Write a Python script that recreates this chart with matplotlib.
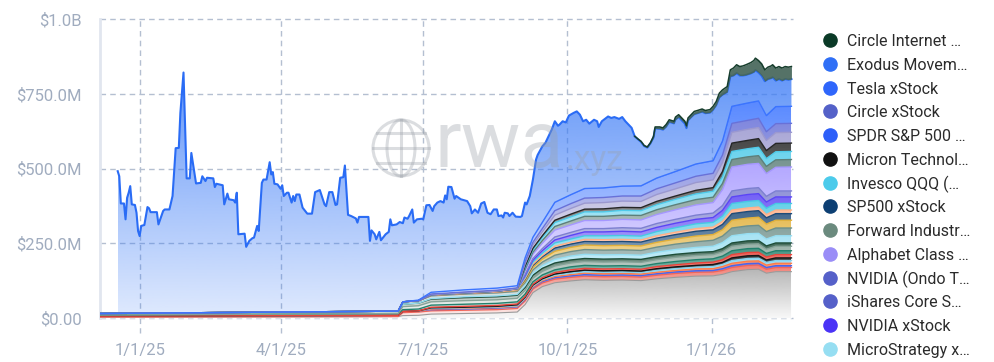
import numpy as np
import pandas as pd
import matplotlib
matplotlib.use("Agg")
import matplotlib.pyplot as plt
import matplotlib.colors as mcolors
from matplotlib.lines import Line2D
from matplotlib.patches import Circle, Ellipse

plt.rcParams['font.family'] = ['Roboto', 'DejaVu Sans']

BASE = pd.Timestamp("2025-01-01")

# total value (top edge of the chart), days counted from 1/1/25, values in $M
top_day = [-14, -13, -12, -10, -9, -8, -7, -6, -5, -3,
           -2, -1, 0, 1, 3, 5, 6, 7, 11, 12,
           15, 16, 19, 21, 23, 25, 26, 28, 30, 32,
           33, 36, 39, 40, 42, 43, 47, 48, 49, 53,
           54, 56, 57, 60, 61, 62, 63, 67, 68, 70,
           72, 73, 75, 76, 78, 79, 81, 83, 84, 85,
           86, 88, 90, 91, 92, 94, 95, 97, 98, 99,
           100, 102, 104, 107, 110, 112, 115, 118, 119, 121,
           123, 125, 126, 128, 130, 131, 133, 135, 138, 139,
           140, 146, 147, 148, 150, 151, 153, 154, 157, 159,
           160, 161, 164, 166, 168, 169, 171, 172, 174, 175,
           177, 180, 181, 183, 185, 187, 188, 190, 192, 194,
           195, 196, 197, 199, 201, 202, 205, 209, 211, 212,
           214, 216, 218, 220, 222, 224, 226, 228, 229, 231,
           232, 233, 235, 236, 238, 240, 243, 244, 246, 247,
           249, 251, 253, 254, 257, 259, 261, 263, 265, 267,
           268, 270, 272, 274, 277, 279, 281, 283, 285, 287,
           290, 292, 293, 295, 297, 299, 301, 303, 306, 308,
           310, 312, 314, 316, 318, 320, 322, 324, 326, 328,
           329, 332, 334, 336, 338, 341, 342, 344, 346, 348,
           349, 350, 352, 354, 356, 359, 361, 364, 366, 368,
           370, 372, 375, 377, 379, 381, 383, 385, 387, 390,
           392, 393, 395, 397, 399, 401, 403, 404, 406, 408,
           410, 412, 414, 416]
top_value = [491, 474, 383, 383, 330, 402, 419, 441, 380, 378,
             352, 291, 274, 308, 311, 371, 367, 354, 354, 313,
             358, 363, 363, 408, 568, 569, 686, 821, 467, 467,
             552, 450, 452, 474, 458, 469, 467, 438, 449, 444,
             380, 416, 397, 394, 386, 419, 280, 282, 238, 258,
             267, 269, 308, 291, 452, 463, 463, 521, 480, 488,
             449, 447, 432, 444, 408, 419, 419, 386, 408, 391,
             413, 413, 369, 349, 349, 421, 428, 380, 374, 421,
             421, 378, 380, 469, 471, 510, 345, 341, 333, 319,
             338, 338, 258, 293, 280, 263, 288, 260, 280, 288,
             330, 310, 313, 321, 317, 336, 332, 341, 363, 319,
             330, 332, 330, 377, 378, 358, 374, 386, 391, 386,
             410, 397, 439, 438, 399, 408, 397, 391, 374, 350,
             363, 352, 383, 388, 352, 347, 363, 363, 341, 343,
             336, 352, 350, 341, 352, 339, 338, 341, 386, 380,
             408, 463, 530, 545, 574, 586, 608, 630, 658, 643,
             647, 658, 654, 677, 686, 691, 680, 658, 663, 650,
             663, 658, 639, 658, 666, 674, 669, 672, 666, 672,
             658, 647, 636, 608, 599, 591, 577, 572, 586, 608,
             639, 639, 636, 647, 663, 658, 672, 680, 669, 658,
             643, 669, 680, 691, 694, 699, 694, 697, 708, 724,
             752, 763, 774, 830, 836, 847, 841, 843, 847, 854,
             861, 869, 861, 850, 830, 839, 843, 847, 836, 841,
             836, 841, 839, 841]

# Circle Internet (top band), on the same days
circle_day = [316, 318, 320, 322, 324,
              326, 328, 329, 332, 334, 336, 338, 341, 342, 344,
              346, 348, 349, 350, 352, 354, 356, 359, 361, 364,
              366, 368, 370, 372, 375, 377, 379, 381, 383, 385,
              387, 390, 392, 393, 395, 397, 399, 401, 403, 404,
              406, 408, 410, 412, 414, 416]
circle_internet = [1, 1, 2, 2, 2,
                   2, 4, 5, 6, 6, 7, 7, 7, 8, 8,
                   8, 8, 8, 8, 8, 9, 9, 9, 9, 10,
                   11, 12, 14, 16, 18, 22, 25, 28, 30, 32,
                   34, 36, 38, 40, 40, 40, 38, 40, 41, 42,
                   42, 42, 42, 42, 42, 42]

# lower stack (below Exodus), bottom to top, $M
layer_day = [-25, 165, 168, 178, 186, 207, 228, 241, 246, 251, 257, 265, 275, 284,
             296, 308, 320, 330, 342, 355, 366, 372, 378, 388, 395, 400, 406, 416]
others_gray = [3, 5, 8, 9, 13, 15, 17, 20, 45, 85, 105, 118, 124, 128,
               126, 127, 125, 131, 136, 140, 141, 146, 155, 162, 163, 150, 155, 155]
salmon_layer = [0, 0, 10, 11, 11, 11, 11, 12, 12, 12, 12, 12, 12, 12,
                12, 12, 12, 12, 13, 13, 13, 13, 14, 14, 14, 13, 14, 14]
royal_layer = [3, 4, 4, 4, 4, 4, 5, 5, 5, 5, 5, 5, 5, 5,
               5, 5, 5, 5, 5, 5, 5, 6, 6, 6, 6, 6, 6, 6]
orange_layer = [0, 0, 0, 0, 2, 2, 2, 2, 2, 2, 3, 4, 4, 5,
                5, 5, 5, 5, 5, 6, 6, 7, 8, 8, 8, 8, 8, 8]
sky_layer = [0, 0, 0, 0, 2, 2, 2, 2, 2, 3, 3, 4, 5, 5,
             5, 5, 5, 6, 6, 6, 7, 7, 9, 9, 9, 9, 9, 9]
black_layer = [0, 0, 0, 0, 2, 2, 2, 3, 3, 3, 3, 4, 5, 5,
               5, 5, 5, 6, 6, 6, 7, 7, 9, 9, 9, 8, 9, 9]
red_layer = [0, 0, 0, 0, 2, 3, 3, 3, 3, 3, 4, 5, 6, 6,
             6, 6, 6, 7, 7, 8, 8, 9, 11, 11, 11, 10, 11, 11]
teal_layer = [4, 6, 6, 6, 7, 7, 7, 7, 8, 8, 9, 9, 10, 10,
              10, 10, 10, 10, 11, 11, 11, 12, 13, 13, 13, 12, 13, 13]
sage_layer = [0, 0, 10, 11, 11, 12, 12, 12, 12, 12, 12, 13, 13, 13,
              13, 13, 13, 13, 14, 14, 14, 14, 15, 15, 15, 14, 15, 15]
forest_layer = [5, 8, 8, 9, 9, 10, 10, 10, 10, 10, 10, 10, 10, 10,
                10, 10, 10, 10, 10, 10, 10, 11, 11, 11, 11, 11, 11, 11]
microstrategy_xstock = [0, 0, 0, 0, 2, 3, 3, 3, 6, 7, 9, 12, 13, 14,
                        14, 14, 14, 15, 16, 17, 18, 20, 24, 24, 24, 23, 24, 24]
grayteal_layer = [0, 0, 8, 8, 9, 9, 10, 10, 10, 11, 12, 14, 15, 16,
                  16, 16, 16, 17, 18, 19, 20, 22, 26, 26, 27, 25, 26, 26]
gold_layer = [0, 0, 0, 0, 2, 2, 3, 3, 6, 8, 10, 13, 14, 15,
              15, 15, 15, 16, 17, 19, 19, 21, 26, 26, 27, 25, 26, 26]
sp500_xstock = [0, 0, 0, 0, 0, 0, 0, 2, 5, 7, 8, 11, 11, 12,
                13, 13, 13, 14, 15, 16, 16, 18, 22, 22, 22, 21, 22, 22]
peach_layer = [0, 0, 0, 0, 0, 0, 0, 0, 3, 4, 4, 6, 6, 7,
               7, 7, 7, 8, 8, 9, 9, 10, 12, 12, 12, 11, 12, 12]
cyan_layer = [0, 0, 0, 0, 2, 2, 3, 3, 5, 7, 8, 11, 11, 12,
              13, 13, 13, 14, 15, 16, 16, 18, 22, 22, 22, 21, 22, 22]
nvidia_xstock = [0, 0, 0, 0, 0, 0, 0, 1, 4, 6, 8, 10, 12, 13,
                 13, 14, 14, 14, 15, 15, 16, 19, 22, 23, 23, 21, 22, 22]
nvidia_ondo = [0, 0, 0, 0, 0, 0, 0, 0, 5, 6, 7, 10, 10, 11,
               11, 12, 12, 13, 13, 14, 15, 16, 20, 20, 20, 19, 20, 20]
alphabet_class_a = [0, 0, 0, 0, 0, 0, 0, 0, 11, 14, 18, 23, 25, 27,
                    27, 28, 28, 30, 32, 34, 35, 53, 80, 81, 81, 76, 79, 80]
forward_industries = [0, 0, 0, 0, 0, 0, 0, 0, 6, 7, 9, 12, 13, 14,
                      14, 14, 15, 16, 17, 18, 18, 21, 25, 25, 26, 24, 25, 25]
invesco_qqq = [0, 0, 0, 0, 0, 0, 0, 0, 6, 8, 10, 13, 14, 15,
               15, 16, 16, 17, 18, 19, 20, 22, 27, 27, 28, 26, 27, 27]
micron = [0, 0, 0, 0, 0, 0, 0, 0, 4, 5, 6, 8, 9, 9,
          10, 10, 10, 11, 11, 12, 12, 18, 28, 28, 29, 27, 28, 28]
ishares_core = [0, 0, 0, 0, 0, 0, 0, 0, 8, 11, 13, 17, 19, 20,
                21, 21, 21, 23, 24, 26, 26, 30, 36, 37, 37, 34, 36, 36]
circle_xstock = [0, 0, 0, 0, 2, 3, 3, 3, 7, 9, 11, 15, 16, 17,
                 17, 17, 18, 19, 20, 21, 22, 25, 30, 30, 31, 29, 30, 30]
tesla_xstock = [0, 0, 0, 2, 6, 7, 7, 7, 13, 17, 21, 28, 30, 32,
                32, 33, 34, 36, 38, 41, 42, 47, 57, 58, 58, 54, 57, 57]

x_tick_dates = ["2025-01-01", "2025-04-01", "2025-07-01", "2025-10-01", "2026-01-01"]
x_tick_labels = ["1/1/25", "4/1/25", "7/1/25", "10/1/25", "1/1/26"]
y_ticks = [0, 250, 500, 750, 1000]
y_tick_labels = ["$0.00", "$250.0M", "$500.0M", "$750.0M", "$1.0B"]

legend_names = ["Circle Internet …", "Exodus Movem…", "Tesla xStock", "Circle xStock",
                "SPDR S&P 500 …", "Micron Technol…", "Invesco QQQ (…", "SP500 xStock",
                "Forward Industr…", "Alphabet Class …", "NVIDIA (Ondo T…", "iShares Core S…",
                "NVIDIA xStock", "MicroStrategy x…"]
legend_colors = ["#0b3a27", "#2f6ff6", "#2f66fb", "#5461c8", "#2d5ff9", "#111111", "#4ccbeb",
                 "#0d3f73", "#6b8a7e", "#9a8df7", "#5560c9", "#5560c9", "#4a33f6", "#96def2"]

lower = [
    (others_gray, "#8a8a8a"), (salmon_layer, "#f0665a"), (royal_layer, "#4a64e8"),
    (orange_layer, "#ff7b47"), (sky_layer, "#86d3ee"), (black_layer, "#161616"),
    (red_layer, "#e8453c"), (teal_layer, "#23806c"), (sage_layer, "#86a398"),
    (forest_layer, "#1d4d38"), (microstrategy_xstock, "#96def2"), (grayteal_layer, "#6e908a"),
    (gold_layer, "#e2b13a"), (sp500_xstock, "#1e4b78"), (peach_layer, "#ffb088"),
    (cyan_layer, "#47c8e4"), (nvidia_xstock, "#5b45f5"), (nvidia_ondo, "#7c7fd0"),
    (alphabet_class_a, "#a597ff"), (forward_industries, "#5c7f7a"), (invesco_qqq, "#4fcbea"),
    (micron, "#262626"), (ishares_core, "#9b98cf"), (circle_xstock, "#6871d8"),
    (tesla_xstock, "#3b74ff"),
]


def band(ax, x, lo, hi, color, a_lo, a_hi, z):
    x = np.asarray(x, float)
    lo = np.asarray(lo, float)
    hi = np.asarray(hi, float)
    poly = ax.fill_between(x, lo, hi, facecolor="none", edgecolor="none", zorder=z)
    ramp = np.zeros((256, 1, 4))
    ramp[:, 0, :3] = mcolors.to_rgb(color)
    ramp[:, 0, 3] = np.linspace(a_lo, a_hi, 256)
    im = ax.imshow(ramp, extent=(x.min(), x.max(), lo.min(), hi.max()),
                   origin="lower", aspect="auto", interpolation="bilinear", zorder=z)
    im.set_clip_path(poly.get_paths()[0], transform=ax.transData)


fig = plt.figure(figsize=(9.95, 3.62), dpi=100)
ax = fig.add_axes([100 / 995, 1 - 318 / 362, 693 / 995, 299 / 362])

top_day_a = np.array(top_day, float)
total = np.array(top_value, float)
exodus_top = total.copy()
ci = np.searchsorted(top_day_a, circle_day)
exodus_top[ci] -= np.array(circle_internet, float)

# Exodus band (drawn from zero, the lower stack paints over it)
band(ax, top_day_a, np.zeros_like(exodus_top), exodus_top, "#3b7bf7", 0.16, 0.8, 1)
ax.plot(top_day_a, exodus_top, color="#2a6cf5", lw=1.5, zorder=3)

# lower stack
ld = np.array(layer_day, float)
stack = np.vstack([np.array(v, float) for v, _ in lower])
tops = np.cumsum(stack, axis=0)
ax.fill_between(ld, 0, tops[-1], color="white", lw=0, zorder=1.5)
bottom = np.zeros_like(ld)
for k, (vals, col) in enumerate(lower):
    if k == 0:
        band(ax, ld, bottom, tops[k], col, 0.06, 0.62, 2)
        ax.plot(ld, tops[k], color="#9a9a9a", lw=0.8, zorder=2.6)
    else:
        band(ax, ld, bottom, tops[k], col, 0.12, 0.85, 2)
        ax.plot(ld, tops[k], color=col, lw=1.0, zorder=2.6)
    bottom = tops[k]

# Circle Internet band at the very top
cd = np.array(circle_day, float)
ax.fill_between(cd, exodus_top[ci], total[ci], color="#46665a", alpha=0.92, lw=0, zorder=3.1)
ax.plot(cd, total[ci], color="#163d2c", lw=1.1, zorder=3.2)

# axes styling
tick_days = [(pd.Timestamp(d) - BASE).days for d in x_tick_dates]
ax.set_xticks(tick_days)
ax.set_xticklabels(x_tick_labels)
ax.set_yticks(y_ticks)
ax.set_yticklabels(y_tick_labels)
ax.tick_params(axis="y", length=0, pad=13, labelsize=12, labelcolor="#a0acbf")
ax.tick_params(axis="x", length=0, pad=18, labelsize=12, labelcolor="#a0acbf")
ax.set_axisbelow(True)
ax.grid(True, color="#b4bfd1", lw=1, ls=(0, (4, 3)))
for gl in ax.get_ygridlines():
    gl.set_clip_on(False)
for d in tick_days:
    ax.plot([d, d], [0, -50], color="#b4bfd1", lw=1, ls=(0, (4, 3)), clip_on=False, zorder=0.5)
for s in ["top", "right", "bottom"]:
    ax.spines[s].set_visible(False)
ax.spines["left"].set_color("#e1e6ef")
ax.spines["left"].set_linewidth(2)
ax.set_xlim(-25.3, 417)
ax.set_ylim(0, 1000)

# watermark
fig.text(435 / 995, 1 - 167 / 362, "rwa", fontsize=57, color="#9aa0a8", alpha=0.35,
         va="baseline", ha="left", zorder=10)
fig.text(566 / 995, 1 - 169 / 362, ".xyz", fontsize=24, color="#9aa0a8", alpha=0.35,
         va="baseline", ha="left", zorder=10)
gax = fig.add_axes([(401 - 32) / 995, 1 - (148 + 32) / 362, 64 / 995, 64 / 362])
gax.set_xlim(-32, 32)
gax.set_ylim(-32, 32)
gax.set_aspect("equal")
gax.axis("off")
wm = dict(fill=False, ec="#9aa0a8", lw=2.2, alpha=0.35)
gax.add_patch(Circle((0, 0), 28, **wm))
gax.add_patch(Ellipse((0, 0), 28, 56, **wm))
gax.plot([0, 0], [-28, 28], color="#9aa0a8", lw=2.2, alpha=0.35)
for yy in [-15, 0, 15]:
    hw = np.sqrt(28 ** 2 - yy ** 2)
    gax.plot([-hw, hw], [yy, yy], color="#9aa0a8", lw=2.2, alpha=0.35)

# legend
for i, (name, col) in enumerate(zip(legend_names, legend_colors)):
    yy = 1 - (40 + i * 23.77) / 362
    fig.add_artist(Line2D([830 / 995], [yy], marker="o", ms=9.5, color=col, lw=0,
                          transform=fig.transFigure))
    fig.text(847 / 995, yy, name, fontsize=11.5, color="#2b2b2b", va="center_baseline", ha="left")

fig.savefig("out.png", dpi=100)
